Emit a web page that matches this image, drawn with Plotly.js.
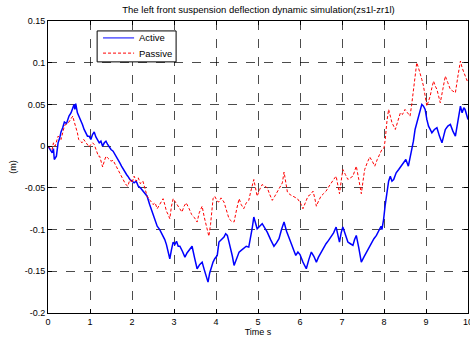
<!DOCTYPE html>
<html>
<head>
<meta charset="utf-8">
<script src="https://cdn.plot.ly/plotly-3.0.1.min.js"></script>
<style>html,body{margin:0;padding:0;background:#fff}#chart{width:470px;height:343px}</style>
</head>
<body>
<div id="chart"></div>
<script>
const chartTitle = "The left front suspension deflection dynamic simulation(zs1l-zr1l)";
const xTitle = "Time s";
const yTitle = "(m)";
const seriesNames = ["Active", "Passive"];
const seriesColors = ["#0000ff", "#ff0000"];
const xTickVals = [0,1,2,3,4,5,6,7,8,9,10];
const xTickText = ["0","1","2","3","4","5","6","7","8","9","10"];
const yTickVals = [0.15,0.1,0.05,0,-0.05,-0.1,-0.15,-0.2];
const yTickText = ["0.15","0.1","0.05","0","-0.05","-0.1","-0.15","-0.2"];

const activePts = [[0,0.000],[0.05,-0.004],[0.1,-0.008],[0.13,-0.003],[0.15,-0.016],[0.2,-0.012],[0.24,0.004],[0.28,0.010],[0.31,0.017],[0.35,0.022],[0.39,0.029],[0.44,0.027],[0.5,0.036],[0.55,0.040],[0.59,0.046],[0.62,0.050],[0.64,0.044],[0.66,0.051],[0.7,0.040],[0.74,0.036],[0.78,0.032],[0.82,0.026],[0.86,0.020],[0.9,0.016],[0.94,0.012],[0.98,0.012],[1.02,0.008],[1.06,0.014],[1.1,0.017],[1.14,0.011],[1.18,0.008],[1.22,0.004],[1.26,0.006],[1.3,0.000],[1.34,0.004],[1.38,0.006],[1.42,0.002],[1.46,-0.001],[1.5,-0.004],[1.55,-0.006],[1.6,-0.010],[1.64,-0.014],[1.67,-0.016],[1.71,-0.020],[1.75,-0.024],[1.79,-0.028],[1.83,-0.030],[1.87,-0.034],[1.9,-0.036],[1.95,-0.040],[2.0,-0.042],[2.05,-0.044],[2.1,-0.042],[2.15,-0.048],[2.2,-0.050],[2.26,-0.054],[2.31,-0.056],[2.36,-0.060],[2.42,-0.070],[2.48,-0.079],[2.54,-0.086],[2.6,-0.096],[2.66,-0.100],[2.7,-0.104],[2.74,-0.108],[2.78,-0.112],[2.82,-0.118],[2.86,-0.126],[2.9,-0.135],[2.94,-0.124],[2.98,-0.115],[3.02,-0.118],[3.06,-0.114],[3.1,-0.120],[3.14,-0.120],[3.2,-0.126],[3.26,-0.133],[3.31,-0.128],[3.36,-0.124],[3.43,-0.120],[3.49,-0.134],[3.55,-0.147],[3.61,-0.142],[3.67,-0.139],[3.72,-0.148],[3.77,-0.156],[3.81,-0.163],[3.85,-0.152],[3.89,-0.144],[3.93,-0.139],[3.97,-0.135],[4.03,-0.131],[4.07,-0.115],[4.12,-0.112],[4.19,-0.109],[4.23,-0.105],[4.27,-0.107],[4.31,-0.115],[4.35,-0.123],[4.39,-0.132],[4.43,-0.143],[4.49,-0.135],[4.55,-0.127],[4.6,-0.125],[4.66,-0.123],[4.72,-0.120],[4.78,-0.121],[4.82,-0.112],[4.86,-0.099],[4.9,-0.085],[4.94,-0.092],[4.98,-0.099],[5.04,-0.096],[5.1,-0.093],[5.16,-0.098],[5.22,-0.103],[5.3,-0.112],[5.38,-0.120],[5.44,-0.116],[5.5,-0.111],[5.56,-0.100],[5.62,-0.091],[5.68,-0.102],[5.74,-0.111],[5.8,-0.118],[5.86,-0.126],[5.9,-0.131],[5.95,-0.127],[6.0,-0.130],[6.07,-0.139],[6.11,-0.143],[6.15,-0.147],[6.21,-0.136],[6.27,-0.127],[6.33,-0.132],[6.39,-0.139],[6.44,-0.133],[6.5,-0.127],[6.56,-0.122],[6.62,-0.117],[6.68,-0.113],[6.74,-0.109],[6.8,-0.104],[6.86,-0.097],[6.9,-0.106],[6.94,-0.115],[6.98,-0.104],[7.02,-0.097],[7.08,-0.106],[7.14,-0.115],[7.2,-0.117],[7.26,-0.119],[7.3,-0.112],[7.34,-0.107],[7.4,-0.122],[7.46,-0.139],[7.52,-0.133],[7.58,-0.127],[7.64,-0.121],[7.7,-0.115],[7.76,-0.111],[7.82,-0.107],[7.88,-0.101],[7.93,-0.096],[7.95,-0.100],[7.99,-0.088],[8.03,-0.070],[8.07,-0.052],[8.11,-0.042],[8.15,-0.036],[8.19,-0.042],[8.23,-0.040],[8.29,-0.032],[8.35,-0.028],[8.41,-0.024],[8.47,-0.020],[8.52,-0.016],[8.58,-0.024],[8.62,-0.014],[8.66,-0.008],[8.7,0.006],[8.74,0.020],[8.78,0.028],[8.82,0.036],[8.86,0.042],[8.9,0.050],[8.94,0.048],[8.98,0.044],[9.02,0.032],[9.06,0.024],[9.1,0.020],[9.14,0.016],[9.2,0.020],[9.26,0.022],[9.32,0.012],[9.38,0.004],[9.42,0.012],[9.46,0.020],[9.52,0.024],[9.58,0.026],[9.64,0.018],[9.7,0.012],[9.76,0.030],[9.8,0.044],[9.82,0.048],[9.86,0.040],[9.9,0.046],[9.93,0.044],[9.97,0.036],[10.0,0.032]];

const passivePts = [[0,0.000],[0.05,-0.003],[0.1,-0.004],[0.13,0.004],[0.17,0.000],[0.21,0.006],[0.24,0.012],[0.28,0.010],[0.31,0.008],[0.35,0.016],[0.39,0.024],[0.44,0.027],[0.5,0.029],[0.55,0.033],[0.59,0.036],[0.62,0.030],[0.66,0.024],[0.7,0.016],[0.73,0.008],[0.77,0.006],[0.81,0.004],[0.85,0.008],[0.9,0.004],[0.94,0.002],[0.98,-0.001],[1.02,0.002],[1.06,0.004],[1.1,0.002],[1.15,-0.006],[1.2,-0.012],[1.23,-0.012],[1.27,-0.020],[1.3,-0.025],[1.34,-0.018],[1.38,-0.012],[1.42,-0.014],[1.46,-0.016],[1.5,-0.018],[1.55,-0.017],[1.6,-0.022],[1.64,-0.026],[1.67,-0.028],[1.71,-0.032],[1.75,-0.036],[1.79,-0.040],[1.83,-0.044],[1.87,-0.047],[1.9,-0.048],[1.95,-0.040],[2.0,-0.044],[2.05,-0.036],[2.1,-0.042],[2.15,-0.038],[2.2,-0.045],[2.26,-0.042],[2.31,-0.052],[2.36,-0.060],[2.41,-0.064],[2.45,-0.066],[2.5,-0.070],[2.55,-0.068],[2.6,-0.075],[2.65,-0.070],[2.7,-0.066],[2.74,-0.063],[2.78,-0.070],[2.82,-0.078],[2.86,-0.082],[2.9,-0.087],[2.94,-0.072],[2.98,-0.063],[3.02,-0.066],[3.07,-0.070],[3.12,-0.074],[3.19,-0.079],[3.24,-0.072],[3.29,-0.068],[3.36,-0.075],[3.42,-0.082],[3.49,-0.086],[3.55,-0.091],[3.6,-0.080],[3.67,-0.072],[3.72,-0.085],[3.76,-0.094],[3.79,-0.099],[3.83,-0.108],[3.87,-0.094],[3.9,-0.076],[3.93,-0.063],[3.97,-0.060],[4.03,-0.066],[4.07,-0.067],[4.12,-0.062],[4.19,-0.067],[4.25,-0.078],[4.31,-0.087],[4.37,-0.090],[4.43,-0.091],[4.49,-0.076],[4.55,-0.063],[4.6,-0.070],[4.66,-0.075],[4.72,-0.068],[4.78,-0.065],[4.82,-0.056],[4.86,-0.048],[4.9,-0.040],[4.94,-0.050],[4.98,-0.060],[5.04,-0.052],[5.1,-0.046],[5.16,-0.048],[5.22,-0.050],[5.28,-0.058],[5.34,-0.065],[5.4,-0.060],[5.46,-0.055],[5.52,-0.050],[5.58,-0.044],[5.62,-0.031],[5.66,-0.044],[5.7,-0.055],[5.76,-0.058],[5.82,-0.060],[5.88,-0.062],[5.94,-0.063],[5.98,-0.066],[6.03,-0.070],[6.07,-0.075],[6.13,-0.068],[6.19,-0.060],[6.25,-0.058],[6.31,-0.054],[6.35,-0.062],[6.39,-0.072],[6.44,-0.066],[6.5,-0.060],[6.56,-0.057],[6.62,-0.054],[6.68,-0.049],[6.74,-0.044],[6.8,-0.040],[6.86,-0.036],[6.9,-0.046],[6.94,-0.057],[6.98,-0.042],[7.02,-0.028],[7.08,-0.034],[7.14,-0.040],[7.2,-0.038],[7.26,-0.036],[7.3,-0.030],[7.34,-0.024],[7.4,-0.040],[7.46,-0.057],[7.5,-0.042],[7.54,-0.028],[7.6,-0.020],[7.66,-0.013],[7.72,-0.018],[7.78,-0.024],[7.84,-0.016],[7.9,-0.010],[7.95,-0.004],[8.0,-0.002],[8.03,0.008],[8.07,0.030],[8.11,0.044],[8.15,0.036],[8.19,0.028],[8.23,0.024],[8.27,0.020],[8.33,0.030],[8.39,0.040],[8.44,0.038],[8.5,0.044],[8.56,0.040],[8.62,0.036],[8.66,0.050],[8.7,0.068],[8.74,0.085],[8.78,0.100],[8.82,0.094],[8.86,0.088],[8.9,0.080],[8.94,0.072],[8.98,0.060],[9.02,0.048],[9.06,0.054],[9.1,0.060],[9.14,0.070],[9.18,0.078],[9.22,0.072],[9.26,0.068],[9.3,0.060],[9.34,0.052],[9.4,0.068],[9.46,0.084],[9.52,0.076],[9.58,0.068],[9.64,0.066],[9.7,0.064],[9.76,0.084],[9.8,0.096],[9.82,0.102],[9.86,0.094],[9.9,0.088],[9.95,0.082],[10.0,0.076]];

const font = "Liberation Sans, Arial, sans-serif";
const dashStyle = "3px,2px";

const traces = [
  {
    x: activePts.map(p => p[0]), y: activePts.map(p => p[1]),
    name: seriesNames[0], type: "scatter", mode: "lines",
    line: {color: seriesColors[0], width: 1.5}
  },
  {
    x: passivePts.map(p => p[0]), y: passivePts.map(p => p[1]),
    name: seriesNames[1], type: "scatter", mode: "lines",
    line: {color: seriesColors[1], width: 1, dash: dashStyle}
  }
];

const axisCommon = {
  showline: true, linecolor: "#000", linewidth: 1, mirror: "ticks",
  ticks: "inside", ticklen: 4, tickcolor: "#000", tickwidth: 1,
  showgrid: true, gridcolor: "#000", griddash: "dash", gridwidth: 0.7,
  zeroline: false, tickfont: {family: font, size: 9, color: "#000"},
  tickmode: "array", ticklabeloverflow: "allow"
};

// custom MATLAB-style legend box (paper coordinates)
const lg = {x0: 0.117, x1: 0.305, y0: 0.860, y1: 0.966, sx0: 0.131, sx1: 0.205, tx: 0.212, rows: [0.942, 0.890]};
const shapes = [
  {type: "rect", xref: "paper", yref: "paper", x0: lg.x0, x1: lg.x1, y0: lg.y0, y1: lg.y1,
   line: {color: "#000", width: 1}, fillcolor: "#fff", layer: "above"}
];
const annotations = [];
seriesNames.forEach((nm, i) => {
  shapes.push({type: "line", xref: "paper", yref: "paper", x0: lg.sx0, x1: lg.sx1, y0: lg.rows[i], y1: lg.rows[i],
    line: {color: seriesColors[i], width: 1, dash: i === 1 ? dashStyle : "solid"}, layer: "above"});
  annotations.push({xref: "paper", yref: "paper", x: lg.tx, y: lg.rows[i], xanchor: "left", yanchor: "middle",
    text: nm, showarrow: false, font: {family: font, size: 9.5, color: "#000"}});
});

const layout = {
  width: 470, height: 343,
  paper_bgcolor: "#fff", plot_bgcolor: "#fff",
  margin: {l: 48, r: 2, t: 21, b: 30},
  showlegend: false,
  title: {text: chartTitle, font: {family: font, size: 9.5, color: "#000"}, x: 0.55, xanchor: "center", y: 0.973, yanchor: "middle"},
  xaxis: Object.assign({}, axisCommon, {
    range: [0, 10], tickvals: xTickVals, ticktext: xTickText,
    title: {text: xTitle, font: {family: font, size: 9, color: "#000"}, standoff: 2}
  }),
  yaxis: Object.assign({}, axisCommon, {
    range: [-0.2, 0.15], tickvals: yTickVals, ticktext: yTickText,
    title: {text: yTitle, font: {family: font, size: 9, color: "#000"}, standoff: 6}
  }),
  shapes: shapes,
  annotations: annotations
};

Plotly.newPlot("chart", traces, layout, {staticPlot: true, displayModeBar: false});
</script>
</body>
</html>
